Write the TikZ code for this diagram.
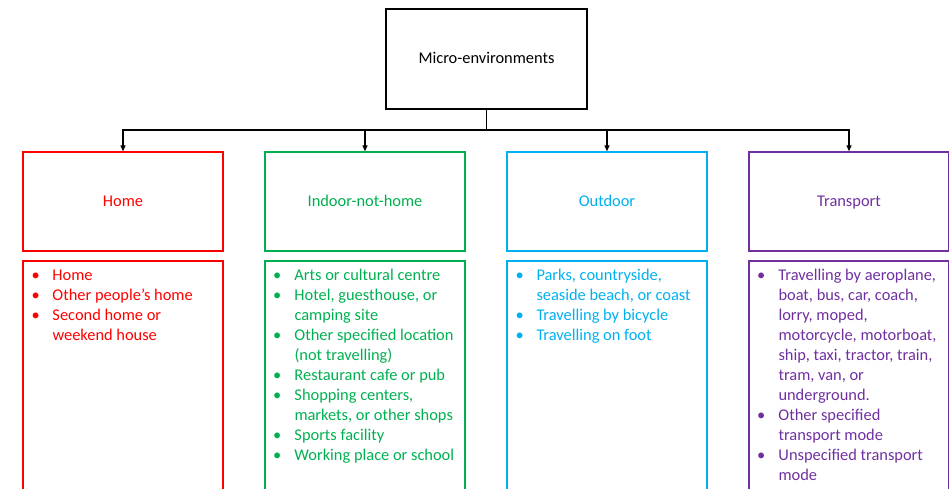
\documentclass[tikz,border=0pt]{standalone}
\usepackage{fontspec}
\setmainfont{Carlito}
\usetikzlibrary{positioning,arrows.meta}
\definecolor{homec}{RGB}{255,0,0}
\definecolor{indoorc}{RGB}{0,176,80}
\definecolor{outc}{RGB}{0,176,240}
\definecolor{transc}{RGB}{112,48,160}
\newcommand{\fs}{\fontsize{16.4}{20}\selectfont}
\tikzset{
  hd/.style={rectangle, draw=#1, text=#1, line width=1.4pt, minimum width=200pt, minimum height=99pt,
    inner sep=0pt, text height=12pt, text depth=2.4pt, font=\fs},
  hd/.default=black,
  lbox/.style={rectangle, draw=#1, line width=1.4pt, minimum width=200pt, minimum height=229pt,
    inner sep=0pt},
  items/.style={anchor=north west, inner sep=0pt, font=\fs, align=left, text=#1},
  link/.style={draw=black, line width=1.3pt},
  arr/.style={link, -{Triangle[length=6pt,width=5pt]}}
}

\begin{document}
\begin{tikzpicture}[x=1pt, y=1pt]
  \useasboundingbox (0,0) rectangle (949,-488);
  \node[hd, minimum width=201pt, minimum height=100pt] (micro) at (486.5,-59) {Micro-environments};
  \node[hd=homec] (home) at (123,-201.5) {Home};
  \node[hd=indoorc] (indoor) at (365,-201.5) {Indoor-not-home};
  \node[hd=outc] (outdoor) at (607,-201.5) {Outdoor};
  \node[hd=transc] (transport) at (849,-201.5) {Transport};
  % lists
  \node[lbox=homec] (homeL) at (123,-375.5) {};
  \node[lbox=indoorc] (indoorL) at (365,-375.5) {};
  \node[lbox=outc] (outdoorL) at (607,-375.5) {};
  \node[lbox=transc] (transportL) at (849,-375.5) {};
  \node[items=homec] (homeT) at ([xshift=9pt,yshift=-5.5pt]homeL.north west)
    {\begin{tabular}{@{}p{21pt}@{}l@{}}
      \textbullet & Home\\
      \textbullet & Other people’s home\\
      \textbullet & Second home or\\
       & weekend house
    \end{tabular}};
  \node[items=indoorc] (indoorT) at ([xshift=8.5pt,yshift=-5.5pt]indoorL.north west)
    {\begin{tabular}{@{}p{21.5pt}@{}l@{}}
      \textbullet & Arts or cultural centre\\
      \textbullet & Hotel, guesthouse, or\\
       & camping site\\
      \textbullet & Other specified location\\
       & (not travelling)\\
      \textbullet & Restaurant cafe or pub\\
      \textbullet & Shopping centers,\\
       & markets, or other shops\\
      \textbullet & Sports facility\\
      \textbullet & Working place or school
    \end{tabular}};
  \node[items=outc] (outdoorT) at ([xshift=9pt,yshift=-5.5pt]outdoorL.north west)
    {\begin{tabular}{@{}p{21pt}@{}l@{}}
      \textbullet & Parks, countryside,\\
       & seaside beach, or coast\\
      \textbullet & Travelling by bicycle\\
      \textbullet & Travelling on foot
    \end{tabular}};
  \node[items=transc] (transportT) at ([xshift=8.5pt,yshift=-5.5pt]transportL.north west)
    {\begin{tabular}{@{}p{21.5pt}@{}l@{}}
      \textbullet & Travelling by aeroplane,\\
       & boat, bus, car, coach,\\
       & lorry, moped,\\
       & motorcycle, motorboat,\\
       & ship, taxi, tractor, train,\\
       & tram, van, or\\
       & underground.\\
      \textbullet & Other specified\\
       & transport mode\\
      \textbullet & Unspecified transport\\
       & mode
    \end{tabular}};
  % connectors
  \coordinate (bus) at (486.5,-130);
  \draw[link] (micro.south) -- (bus);
  \draw[arr] (bus) -| (home.north);
  \draw[arr] (bus) -| (indoor.north);
  \draw[arr] (bus) -| (outdoor.north);
  \draw[arr] (bus) -| (transport.north);
\end{tikzpicture}
\end{document}
